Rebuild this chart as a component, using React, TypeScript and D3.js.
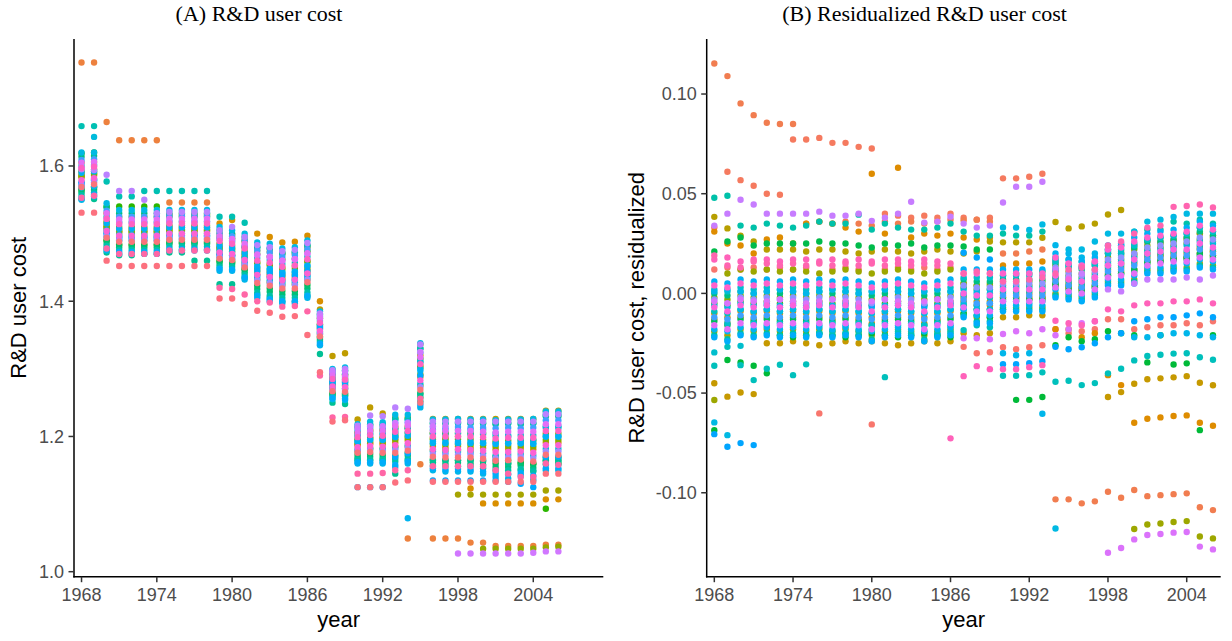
import React from "react";
import * as d3 from "d3";

// ---- categories and ticks ----
const YEARS = [
  1968, 1969, 1970, 1971, 1972, 1973, 1974, 1975, 1976, 1977,
  1978, 1979, 1980, 1981, 1982, 1983, 1984, 1985, 1986, 1987,
  1988, 1989, 1990, 1991, 1992, 1993, 1994, 1995, 1996, 1997,
  1998, 1999, 2000, 2001, 2002, 2003, 2004, 2005, 2006,
];
const YEAR_TICKS = [1968, 1974, 1980, 1986, 1992, 1998, 2004];
const COST_TICKS = [1.0, 1.2, 1.4, 1.6];
const RESID_TICKS = [-0.1, -0.05, 0, 0.05, 0.1];

// ---- panel A: states without their own credit history, one row per year ----
const COST_CLUSTER_HUES = [215, 160, 250, 300, 195, 335, 110, 230, 100, 60, 325, 205, 270, 10, 140, 155, 180, 235, 220];
const COST_CLUSTER: number[][] = [
  [1.620, 1.614, 1.609, 1.605, 1.600, 1.597, 1.593, 1.590, 1.586, 1.583, 1.579, 1.576, 1.572, 1.569, 1.565, 1.561, 1.557, 1.553, 1.550], // 1968
  [1.620, 1.615, 1.610, 1.606, 1.602, 1.599, 1.595, 1.592, 1.589, 1.586, 1.582, 1.579, 1.576, 1.573, 1.569, 1.565, 1.561, 1.558, 1.555],
  [1.545, 1.539, 1.534, 1.530, 1.525, 1.522, 1.518, 1.515, 1.511, 1.508, 1.504, 1.501, 1.497, 1.494, 1.490, 1.486, 1.482, 1.478, 1.475], // 1970
  [1.535, 1.530, 1.525, 1.521, 1.517, 1.514, 1.510, 1.507, 1.504, 1.501, 1.497, 1.494, 1.491, 1.488, 1.484, 1.480, 1.476, 1.473, 1.470],
  [1.535, 1.530, 1.525, 1.521, 1.517, 1.514, 1.510, 1.507, 1.504, 1.501, 1.497, 1.494, 1.491, 1.488, 1.484, 1.480, 1.476, 1.473, 1.470],
  [1.535, 1.530, 1.525, 1.521, 1.517, 1.514, 1.510, 1.507, 1.504, 1.501, 1.497, 1.494, 1.491, 1.488, 1.484, 1.480, 1.476, 1.473, 1.470],
  [1.535, 1.530, 1.525, 1.521, 1.517, 1.514, 1.510, 1.507, 1.504, 1.501, 1.497, 1.494, 1.491, 1.488, 1.484, 1.480, 1.476, 1.473, 1.470],
  [1.535, 1.530, 1.526, 1.522, 1.518, 1.515, 1.512, 1.509, 1.506, 1.503, 1.500, 1.497, 1.494, 1.491, 1.488, 1.485, 1.481, 1.477, 1.475], // 1975
  [1.535, 1.530, 1.526, 1.522, 1.518, 1.515, 1.512, 1.509, 1.506, 1.503, 1.500, 1.497, 1.494, 1.491, 1.488, 1.485, 1.481, 1.477, 1.475],
  [1.535, 1.530, 1.526, 1.522, 1.518, 1.515, 1.512, 1.509, 1.506, 1.503, 1.500, 1.497, 1.494, 1.491, 1.488, 1.485, 1.481, 1.477, 1.475],
  [1.535, 1.530, 1.526, 1.522, 1.518, 1.515, 1.512, 1.509, 1.506, 1.503, 1.500, 1.497, 1.494, 1.491, 1.488, 1.485, 1.481, 1.477, 1.475],
  [1.510, 1.505, 1.500, 1.496, 1.492, 1.489, 1.485, 1.482, 1.479, 1.476, 1.472, 1.469, 1.466, 1.463, 1.459, 1.455, 1.451, 1.448, 1.445],
  [1.505, 1.500, 1.496, 1.492, 1.488, 1.485, 1.482, 1.479, 1.476, 1.473, 1.470, 1.467, 1.464, 1.461, 1.458, 1.455, 1.451, 1.447, 1.445], // 1980
  [1.500, 1.495, 1.490, 1.485, 1.481, 1.478, 1.474, 1.471, 1.467, 1.464, 1.461, 1.457, 1.454, 1.450, 1.447, 1.443, 1.439, 1.435, 1.432],
  [1.487, 1.480, 1.475, 1.469, 1.464, 1.460, 1.456, 1.452, 1.448, 1.444, 1.439, 1.435, 1.431, 1.427, 1.423, 1.418, 1.413, 1.408, 1.405],
  [1.485, 1.478, 1.472, 1.466, 1.461, 1.457, 1.453, 1.448, 1.444, 1.440, 1.436, 1.431, 1.427, 1.423, 1.419, 1.414, 1.408, 1.403, 1.400],
  [1.478, 1.472, 1.466, 1.460, 1.455, 1.451, 1.447, 1.443, 1.439, 1.435, 1.431, 1.427, 1.423, 1.419, 1.415, 1.410, 1.405, 1.400, 1.397],
  [1.480, 1.473, 1.468, 1.462, 1.457, 1.453, 1.448, 1.444, 1.440, 1.436, 1.432, 1.428, 1.424, 1.419, 1.415, 1.410, 1.405, 1.400, 1.397], // 1985
  [1.490, 1.483, 1.477, 1.471, 1.466, 1.462, 1.458, 1.453, 1.449, 1.445, 1.441, 1.436, 1.432, 1.428, 1.424, 1.419, 1.413, 1.408, 1.405],
  [1.385, 1.381, 1.377, 1.374, 1.371, 1.368, 1.366, 1.363, 1.361, 1.358, 1.356, 1.353, 1.351, 1.348, 1.346, 1.343, 1.340, 1.337, 1.335],
  [1.300, 1.296, 1.293, 1.290, 1.287, 1.285, 1.283, 1.281, 1.278, 1.276, 1.274, 1.272, 1.269, 1.267, 1.265, 1.262, 1.259, 1.257, 1.255],
  [1.302, 1.297, 1.292, 1.289, 1.287, 1.284, 1.282, 1.280, 1.278, 1.275, 1.273, 1.271, 1.269, 1.266, 1.264, 1.261, 1.259, 1.256, 1.254],
  [1.218, 1.213, 1.209, 1.205, 1.202, 1.199, 1.196, 1.193, 1.190, 1.187, 1.184, 1.181, 1.179, 1.176, 1.173, 1.169, 1.166, 1.162, 1.160], // 1990
  [1.222, 1.217, 1.213, 1.208, 1.205, 1.202, 1.198, 1.195, 1.192, 1.189, 1.186, 1.183, 1.180, 1.177, 1.174, 1.170, 1.166, 1.162, 1.160],
  [1.221, 1.216, 1.212, 1.208, 1.204, 1.201, 1.198, 1.195, 1.192, 1.188, 1.185, 1.182, 1.179, 1.176, 1.173, 1.169, 1.166, 1.162, 1.160],
  [1.232, 1.226, 1.220, 1.215, 1.210, 1.207, 1.203, 1.199, 1.195, 1.191, 1.187, 1.183, 1.180, 1.176, 1.172, 1.167, 1.163, 1.158, 1.155],
  [1.232, 1.226, 1.221, 1.216, 1.212, 1.208, 1.205, 1.201, 1.197, 1.194, 1.190, 1.187, 1.183, 1.179, 1.176, 1.172, 1.167, 1.163, 1.160],
  [1.338, 1.330, 1.324, 1.317, 1.311, 1.307, 1.302, 1.297, 1.292, 1.288, 1.283, 1.278, 1.273, 1.269, 1.264, 1.258, 1.252, 1.247, 1.243], // 1995
  [1.225, 1.219, 1.214, 1.208, 1.204, 1.200, 1.196, 1.193, 1.189, 1.185, 1.181, 1.178, 1.174, 1.170, 1.166, 1.162, 1.157, 1.153, 1.150],
  [1.225, 1.219, 1.213, 1.208, 1.203, 1.200, 1.196, 1.192, 1.188, 1.184, 1.180, 1.176, 1.173, 1.169, 1.165, 1.160, 1.156, 1.151, 1.148],
  [1.226, 1.220, 1.214, 1.208, 1.204, 1.200, 1.196, 1.192, 1.188, 1.185, 1.181, 1.177, 1.173, 1.169, 1.165, 1.161, 1.156, 1.152, 1.148],
  [1.225, 1.219, 1.213, 1.208, 1.203, 1.200, 1.196, 1.192, 1.188, 1.184, 1.180, 1.176, 1.173, 1.169, 1.165, 1.160, 1.156, 1.151, 1.148],
  [1.225, 1.219, 1.213, 1.207, 1.203, 1.199, 1.195, 1.191, 1.187, 1.183, 1.179, 1.175, 1.171, 1.167, 1.163, 1.158, 1.153, 1.148, 1.145], // 2000
  [1.224, 1.218, 1.212, 1.206, 1.201, 1.197, 1.193, 1.189, 1.185, 1.181, 1.177, 1.172, 1.168, 1.164, 1.160, 1.155, 1.150, 1.145, 1.140],
  [1.225, 1.219, 1.213, 1.207, 1.202, 1.198, 1.194, 1.190, 1.186, 1.182, 1.177, 1.173, 1.169, 1.165, 1.160, 1.155, 1.150, 1.144, 1.138],
  [1.225, 1.218, 1.212, 1.207, 1.202, 1.198, 1.194, 1.190, 1.186, 1.182, 1.178, 1.174, 1.170, 1.166, 1.162, 1.157, 1.152, 1.146, 1.142],
  [1.226, 1.219, 1.213, 1.207, 1.202, 1.198, 1.194, 1.189, 1.185, 1.181, 1.176, 1.172, 1.168, 1.163, 1.159, 1.154, 1.148, 1.142, 1.136],
  [1.237, 1.230, 1.224, 1.218, 1.213, 1.208, 1.204, 1.200, 1.195, 1.191, 1.187, 1.182, 1.178, 1.173, 1.169, 1.164, 1.159, 1.153, 1.150], // 2005
  [1.237, 1.230, 1.224, 1.218, 1.213, 1.208, 1.204, 1.200, 1.195, 1.191, 1.187, 1.182, 1.178, 1.173, 1.169, 1.164, 1.159, 1.153, 1.150],
];

// ---- panel A: states with their own paths (1968 ... 2006) ----
const costCoral = [
  1.753, 1.753, 1.665, 1.638, 1.638, 1.638, 1.638, 1.546, 1.546, 1.546,
  1.546, 1.470, 1.468, 1.455, 1.440, 1.437, 1.432, 1.433, 1.441, 1.352,
  1.271, 1.271, 1.188, 1.190, 1.190, 1.196, 1.049, 1.159, 1.049, 1.049,
  1.049, 1.043, 1.043, 1.038, 1.038, 1.038, 1.038, 1.040, 1.040,
];
const costOrange = [
  1.590, 1.592, 1.515, 1.507, 1.507, 1.507, 1.507, 1.509, 1.509, 1.509,
  1.509, 1.515, 1.520, 1.490, 1.500, 1.495, 1.487, 1.488, 1.497, 1.400,
  1.290, 1.290, 1.205, 1.210, 1.210, 1.215, 1.215, 1.320, 1.205, 1.205,
  1.200, 1.123, 1.101, 1.101, 1.101, 1.101, 1.101, 1.107, 1.107,
];
const costSalmon = [
  1.531, 1.531, 1.460, 1.452, 1.452, 1.452, 1.452, 1.452, 1.452, 1.452,
  1.452, 1.404, 1.404, 1.396, 1.386, 1.383, 1.377, 1.378, 1.350, 1.295,
  1.222, 1.224, 1.125, 1.125, 1.125, 1.132, 1.135, 1.250, 1.133, 1.133,
  1.133, 1.133, 1.133, 1.133, 1.133, 1.133, 1.133, 1.145, 1.145,
];
const costRose = [
  1.553, 1.556, 1.478, 1.470, 1.470, 1.470, 1.470, 1.475, 1.475, 1.475,
  1.475, 1.420, 1.418, 1.410, 1.400, 1.398, 1.392, 1.393, 1.385, 1.290,
  1.228, 1.229, 1.145, 1.145, 1.146, 1.150, 1.150, 1.256, 1.156, 1.156,
  1.156, 1.156, 1.156, 1.150, 1.145, 1.140, 1.140, 1.160, 1.158,
];
const costBlue = [
  1.575, 1.580, 1.500, 1.495, 1.495, 1.495, 1.495, 1.497, 1.497, 1.497,
  1.497, 1.470, 1.468, 1.460, 1.445, 1.442, 1.438, 1.438, 1.445, 1.360,
  1.280, 1.281, 1.125, 1.125, 1.125, 1.170, 1.175, 1.290, 1.135, 1.135,
  1.135, 1.135, 1.135, 1.135, 1.133, 1.130, 1.125, 1.170, 1.170,
];
const costOlive = [
  1.605, 1.606, 1.530, 1.525, 1.525, 1.525, 1.525, 1.528, 1.528, 1.528,
  1.528, 1.500, 1.498, 1.488, 1.475, 1.473, 1.470, 1.470, 1.480, 1.388,
  1.319, 1.323, 1.225, 1.243, 1.234, 1.228, 1.228, 1.336, 1.226, 1.226,
  1.226, 1.226, 1.226, 1.226, 1.226, 1.226, 1.226, 1.238, 1.238,
];
const costKhaki = [
  1.585, 1.588, 1.510, 1.503, 1.503, 1.503, 1.503, 1.505, 1.505, 1.505,
  1.505, 1.480, 1.478, 1.470, 1.458, 1.455, 1.450, 1.452, 1.460, 1.365,
  1.285, 1.285, 1.195, 1.198, 1.198, 1.200, 1.200, 1.305, 1.198, 1.198,
  1.114, 1.114, 1.114, 1.114, 1.114, 1.114, 1.114, 1.120, 1.120,
];
const costLime = [
  1.565, 1.568, 1.490, 1.483, 1.483, 1.483, 1.483, 1.486, 1.486, 1.486,
  1.486, 1.460, 1.458, 1.448, 1.432, 1.428, 1.424, 1.425, 1.432, 1.348,
  1.262, 1.262, 1.178, 1.182, 1.182, 1.185, 1.185, 1.275, 1.180, 1.180,
  1.180, 1.180, 1.034, 1.034, 1.034, 1.034, 1.034, 1.036, 1.037,
];
const costViolet = [
  1.598, 1.600, 1.522, 1.516, 1.516, 1.516, 1.516, 1.518, 1.518, 1.518,
  1.518, 1.492, 1.490, 1.482, 1.468, 1.465, 1.460, 1.462, 1.470, 1.378,
  1.295, 1.296, 1.212, 1.215, 1.215, 1.220, 1.220, 1.325, 1.215, 1.215,
  1.027, 1.027, 1.027, 1.027, 1.027, 1.027, 1.028, 1.030, 1.030,
];
const costLilac = [
  1.595, 1.594, 1.587, 1.563, 1.563, 1.550, 1.530, 1.532, 1.532, 1.532,
  1.532, 1.505, 1.510, 1.495, 1.483, 1.480, 1.474, 1.476, 1.486, 1.382,
  1.298, 1.300, 1.216, 1.231, 1.230, 1.243, 1.241, 1.336, 1.222, 1.222,
  1.222, 1.222, 1.222, 1.222, 1.222, 1.222, 1.222, 1.233, 1.233,
];
const costCyan = [
  1.568, 1.570, 1.495, 1.490, 1.490, 1.490, 1.490, 1.492, 1.492, 1.492,
  1.492, 1.465, 1.462, 1.452, 1.438, 1.435, 1.430, 1.431, 1.438, 1.355,
  1.276, 1.276, 1.192, 1.195, 1.195, 1.200, 1.079, 1.300, 1.190, 1.190,
  1.190, 1.190, 1.190, 1.190, 1.190, 1.190, 1.190, 1.200, 1.200,
];
const costTeal = [
  1.659, 1.659, 1.577, 1.555, 1.555, 1.563, 1.563, 1.563, 1.563, 1.563,
  1.563, 1.525, 1.525, 1.516, 1.480, 1.478, 1.470, 1.472, 1.482, 1.380,
  1.298, 1.298, 1.215, 1.218, 1.218, 1.225, 1.225, 1.330, 1.220, 1.220,
  1.220, 1.220, 1.220, 1.220, 1.220, 1.220, 1.220, 1.232, 1.232,
];
const costSky = [
  1.572, 1.643, 1.505, 1.498, 1.498, 1.498, 1.498, 1.500, 1.500, 1.500,
  1.500, 1.475, 1.473, 1.465, 1.450, 1.447, 1.442, 1.443, 1.452, 1.365,
  1.283, 1.284, 1.200, 1.203, 1.203, 1.206, 1.206, 1.310, 1.210, 1.210,
  1.210, 1.210, 1.210, 1.205, 1.200, 1.195, 1.195, 1.215, 1.215,
];
const costGreen = [
  1.619, 1.620, 1.540, 1.540, 1.540, 1.540, 1.540, 1.525, 1.525, 1.525,
  1.525, 1.495, 1.493, 1.480, 1.470, 1.466, 1.462, 1.463, 1.474, 1.375,
  1.292, 1.292, 1.206, 1.208, 1.208, 1.212, 1.212, 1.315, 1.205, 1.205,
  1.205, 1.205, 1.205, 1.170, 1.165, 1.160, 1.160, 1.093, 1.160,
];
const costSea = [
  1.551, 1.551, 1.472, 1.468, 1.468, 1.470, 1.470, 1.472, 1.472, 1.460,
  1.460, 1.425, 1.425, 1.435, 1.410, 1.405, 1.400, 1.400, 1.408, 1.322,
  1.250, 1.248, 1.165, 1.165, 1.165, 1.145, 1.165, 1.262, 1.165, 1.165,
  1.165, 1.165, 1.165, 1.165, 1.160, 1.150, 1.150, 1.165, 1.165,
];

// ---- panel B: residualized cost, core states one row per year ----
const RESID_CLUSTER_HUES = [230, 330, 200, 160, 100, 265, 120, 210, 320, 190, 55, 250, 40, 145, 300, 225, 80, 175, 235];
const RESID_CLUSTER: number[][] = [
  [0.006, 0.004, 0.002, 0.000, -0.002, -0.003, -0.005, -0.006, -0.007, -0.009, -0.010, -0.012, -0.013, -0.014, -0.016, -0.018, -0.019, -0.021, -0.022], // 1968
  [0.005, 0.003, 0.001, -0.001, -0.003, -0.005, -0.006, -0.007, -0.009, -0.010, -0.012, -0.013, -0.015, -0.016, -0.018, -0.019, -0.021, -0.023, -0.024],
  [0.007, 0.005, 0.003, 0.001, -0.001, -0.002, -0.004, -0.005, -0.006, -0.008, -0.009, -0.011, -0.012, -0.013, -0.015, -0.017, -0.018, -0.020, -0.021], // 1970
  [0.006, 0.004, 0.002, 0.000, -0.002, -0.003, -0.005, -0.006, -0.007, -0.009, -0.010, -0.012, -0.013, -0.014, -0.016, -0.018, -0.019, -0.021, -0.022],
  [0.007, 0.005, 0.003, 0.001, -0.001, -0.002, -0.004, -0.005, -0.006, -0.008, -0.009, -0.011, -0.012, -0.013, -0.015, -0.017, -0.018, -0.020, -0.021],
  [0.006, 0.004, 0.002, 0.000, -0.002, -0.003, -0.005, -0.006, -0.007, -0.009, -0.010, -0.012, -0.013, -0.014, -0.016, -0.018, -0.019, -0.021, -0.022],
  [0.007, 0.005, 0.003, 0.001, -0.001, -0.002, -0.004, -0.005, -0.006, -0.008, -0.009, -0.011, -0.012, -0.013, -0.015, -0.017, -0.018, -0.020, -0.021],
  [0.006, 0.004, 0.002, 0.000, -0.002, -0.003, -0.005, -0.006, -0.007, -0.009, -0.010, -0.012, -0.013, -0.014, -0.016, -0.018, -0.019, -0.021, -0.022], // 1975
  [0.007, 0.005, 0.003, 0.001, -0.001, -0.002, -0.004, -0.005, -0.006, -0.008, -0.009, -0.011, -0.012, -0.013, -0.015, -0.017, -0.018, -0.020, -0.021],
  [0.006, 0.004, 0.002, 0.000, -0.002, -0.003, -0.005, -0.006, -0.007, -0.009, -0.010, -0.012, -0.013, -0.014, -0.016, -0.018, -0.019, -0.021, -0.022],
  [0.007, 0.005, 0.003, 0.001, -0.001, -0.002, -0.004, -0.005, -0.006, -0.008, -0.009, -0.011, -0.012, -0.013, -0.015, -0.017, -0.018, -0.020, -0.021],
  [0.006, 0.004, 0.002, 0.000, -0.002, -0.003, -0.005, -0.006, -0.007, -0.009, -0.010, -0.012, -0.013, -0.014, -0.016, -0.018, -0.019, -0.021, -0.022],
  [0.005, 0.003, 0.001, -0.001, -0.003, -0.005, -0.006, -0.007, -0.009, -0.010, -0.012, -0.013, -0.015, -0.016, -0.018, -0.019, -0.021, -0.023, -0.024], // 1980
  [0.006, 0.004, 0.002, 0.000, -0.002, -0.003, -0.005, -0.006, -0.007, -0.009, -0.010, -0.012, -0.013, -0.014, -0.016, -0.018, -0.019, -0.021, -0.022],
  [0.007, 0.005, 0.003, 0.001, -0.001, -0.002, -0.004, -0.005, -0.006, -0.008, -0.009, -0.011, -0.012, -0.013, -0.015, -0.017, -0.018, -0.020, -0.021],
  [0.006, 0.004, 0.002, 0.000, -0.002, -0.003, -0.005, -0.006, -0.007, -0.009, -0.010, -0.012, -0.013, -0.014, -0.016, -0.018, -0.019, -0.021, -0.022],
  [0.005, 0.003, 0.001, -0.001, -0.003, -0.005, -0.006, -0.007, -0.009, -0.010, -0.012, -0.013, -0.015, -0.016, -0.018, -0.019, -0.021, -0.023, -0.024],
  [0.006, 0.004, 0.002, 0.000, -0.002, -0.003, -0.005, -0.006, -0.007, -0.009, -0.010, -0.012, -0.013, -0.014, -0.016, -0.018, -0.019, -0.021, -0.022], // 1985
  [0.007, 0.005, 0.003, 0.001, -0.001, -0.002, -0.004, -0.005, -0.006, -0.008, -0.009, -0.011, -0.012, -0.013, -0.015, -0.017, -0.018, -0.020, -0.021],
  [0.012, 0.010, 0.008, 0.007, 0.005, 0.004, 0.003, 0.002, 0.000, -0.001, -0.002, -0.003, -0.004, -0.006, -0.007, -0.008, -0.010, -0.011, -0.012],
  [0.012, 0.010, 0.008, 0.006, 0.004, 0.003, 0.002, 0.000, -0.001, -0.002, -0.004, -0.005, -0.006, -0.008, -0.009, -0.011, -0.012, -0.014, -0.015],
  [0.012, 0.010, 0.008, 0.006, 0.004, 0.003, 0.002, 0.000, -0.001, -0.002, -0.004, -0.005, -0.006, -0.008, -0.009, -0.011, -0.012, -0.014, -0.015],
  [0.012, 0.010, 0.009, 0.007, 0.006, 0.005, 0.004, 0.003, 0.002, 0.001, 0.000, -0.001, -0.002, -0.003, -0.004, -0.006, -0.007, -0.008, -0.009], // 1990
  [0.012, 0.010, 0.009, 0.007, 0.006, 0.005, 0.004, 0.003, 0.002, 0.001, 0.000, -0.001, -0.002, -0.003, -0.004, -0.006, -0.007, -0.008, -0.009],
  [0.012, 0.010, 0.009, 0.007, 0.006, 0.005, 0.004, 0.003, 0.002, 0.001, 0.000, -0.001, -0.002, -0.003, -0.004, -0.006, -0.007, -0.008, -0.009],
  [0.012, 0.010, 0.009, 0.007, 0.006, 0.005, 0.004, 0.003, 0.002, 0.001, 0.000, -0.001, -0.002, -0.003, -0.004, -0.006, -0.007, -0.008, -0.009],
  [0.020, 0.018, 0.017, 0.015, 0.014, 0.013, 0.012, 0.011, 0.009, 0.008, 0.007, 0.006, 0.005, 0.004, 0.003, 0.002, 0.000, -0.001, -0.002],
  [0.017, 0.015, 0.014, 0.013, 0.011, 0.010, 0.009, 0.008, 0.007, 0.006, 0.005, 0.004, 0.003, 0.002, 0.001, 0.000, -0.001, -0.002, -0.003], // 1995
  [0.016, 0.014, 0.013, 0.012, 0.010, 0.009, 0.008, 0.007, 0.006, 0.005, 0.004, 0.003, 0.002, 0.001, 0.000, -0.001, -0.002, -0.003, -0.004],
  [0.018, 0.016, 0.015, 0.014, 0.012, 0.011, 0.010, 0.009, 0.008, 0.007, 0.006, 0.005, 0.004, 0.003, 0.002, 0.001, 0.000, -0.001, -0.002],
  [0.024, 0.022, 0.021, 0.020, 0.018, 0.017, 0.016, 0.015, 0.014, 0.013, 0.012, 0.011, 0.010, 0.009, 0.008, 0.007, 0.006, 0.005, 0.004],
  [0.025, 0.023, 0.022, 0.020, 0.019, 0.018, 0.017, 0.016, 0.015, 0.014, 0.013, 0.012, 0.011, 0.010, 0.009, 0.007, 0.006, 0.005, 0.004],
  [0.028, 0.026, 0.025, 0.023, 0.022, 0.020, 0.019, 0.018, 0.017, 0.016, 0.015, 0.014, 0.012, 0.011, 0.010, 0.009, 0.007, 0.006, 0.005], // 2000
  [0.030, 0.028, 0.027, 0.026, 0.024, 0.023, 0.022, 0.021, 0.020, 0.019, 0.018, 0.017, 0.016, 0.015, 0.014, 0.013, 0.012, 0.011, 0.010],
  [0.031, 0.029, 0.028, 0.026, 0.025, 0.024, 0.023, 0.022, 0.021, 0.020, 0.019, 0.018, 0.017, 0.016, 0.015, 0.013, 0.012, 0.011, 0.010],
  [0.032, 0.030, 0.029, 0.027, 0.026, 0.025, 0.024, 0.023, 0.022, 0.021, 0.020, 0.019, 0.018, 0.017, 0.016, 0.014, 0.013, 0.012, 0.011],
  [0.033, 0.031, 0.030, 0.028, 0.027, 0.026, 0.025, 0.024, 0.022, 0.021, 0.020, 0.019, 0.018, 0.017, 0.016, 0.015, 0.013, 0.012, 0.011],
  [0.036, 0.034, 0.033, 0.031, 0.030, 0.028, 0.027, 0.026, 0.025, 0.024, 0.023, 0.022, 0.020, 0.019, 0.018, 0.017, 0.015, 0.014, 0.013], // 2005
  [0.034, 0.032, 0.031, 0.029, 0.028, 0.027, 0.026, 0.025, 0.023, 0.022, 0.021, 0.020, 0.019, 0.018, 0.017, 0.016, 0.014, 0.013, 0.012],
];

// ---- panel B: states with their own paths (1968 ... 2006) ----
const residLilac = [
  0.034, 0.040, 0.047, 0.0446, 0.040, 0.040, 0.040, 0.040, 0.041, 0.039,
  0.039, 0.040, 0.0364, 0.038, 0.040, 0.046, 0.0355, 0.036, 0.0385, 0.035,
  0.033, 0.034, 0.0456, 0.0535, 0.0535, 0.056, 0.012, 0.008, 0.010, 0.008,
  0.002, 0.001, 0.005, 0.007, 0.007, 0.007, 0.008, 0.007, 0.009,
];
const residTeal = [
  0.048, 0.049, 0.034, 0.033, 0.035, 0.034, 0.033, 0.034, 0.036, 0.035,
  0.035, 0.0395, 0.032, 0.035, 0.033, 0.032, 0.032, 0.033, 0.035, 0.031,
  0.029, 0.029, 0.030, 0.029, 0.029, 0.031, 0.018, 0.017, 0.016, 0.015,
  0.022, 0.024, 0.031, 0.032, 0.032, 0.036, 0.035, 0.037, 0.035,
];
const residGreen = [
  0.021, 0.026, 0.028, 0.024, 0.025, 0.025, 0.025, 0.025, 0.026, 0.025,
  0.025, 0.024, 0.023, 0.025, 0.024, 0.025, 0.023, 0.024, 0.024, 0.0235,
  0.022, 0.022, 0.009, 0.010, 0.010, 0.011, 0.005, 0.004, 0.003, 0.004,
  0.009, 0.010, 0.012, 0.016, 0.016, 0.017, 0.018, 0.020, 0.019,
];
const residOlive = [
  0.0384, 0.0326, 0.029, 0.026, 0.022, 0.022, 0.022, 0.021, 0.022, 0.022,
  0.021, 0.020, 0.021, 0.022, 0.021, 0.020, 0.021, 0.022, 0.021, 0.020,
  0.021, 0.026, 0.0256, 0.0256, 0.0256, 0.0279, 0.0358, 0.0326, 0.0336, 0.035,
  0.0396, 0.0418, 0.020, 0.020, 0.019, 0.018, 0.018, 0.022, 0.021,
];
const residCoral = [
  0.1153, 0.109, 0.0953, 0.0894, 0.0856, 0.085, 0.085, 0.035, 0.036, 0.035,
  0.036, 0.035, 0.034, 0.036, 0.035, 0.036, 0.035, 0.036, 0.037, 0.0367,
  0.037, 0.036, 0.020, 0.020, 0.021, 0.022, -0.1033, -0.1033, -0.1053, -0.1043,
  -0.0995, -0.1025, -0.0986, -0.1017, -0.1012, -0.1007, -0.1003, -0.1073, -0.1087,
];
const residTangerine = [
  0.033, 0.061, 0.0568, 0.054, 0.050, 0.0495, 0.0772, 0.0772, 0.078, 0.0755,
  0.0755, 0.0735, 0.0727, 0.040, 0.039, 0.038, 0.039, 0.038, 0.040, 0.038,
  0.037, 0.038, 0.0577, 0.0577, 0.0585, 0.060, 0.016, 0.015, 0.014, 0.016,
  0.020, 0.021, 0.024, 0.026, 0.026, 0.027, 0.028, 0.030, 0.029,
];
const residAmber = [
  0.031, 0.025, 0.024, 0.020, 0.027, 0.028, 0.025, 0.035, 0.036, 0.035,
  0.033, 0.031, 0.060, 0.030, 0.063, 0.028, 0.030, 0.029, 0.030, 0.028,
  0.027, 0.028, 0.014, 0.015, 0.015, 0.016, -0.018, -0.018, -0.022, -0.020,
  -0.041, -0.046, -0.0649, -0.0629, -0.0622, -0.0615, -0.0612, -0.0649, -0.0664,
];
const residOchre = [
  -0.0451, -0.0518, -0.0497, -0.0505, -0.025, -0.025, -0.024, -0.025, -0.026, -0.025,
  -0.024, -0.025, -0.024, -0.025, -0.026, -0.025, -0.024, -0.025, -0.024, -0.020,
  -0.021, -0.020, -0.012, -0.012, -0.011, -0.011, 0.004, 0.003, 0.002, 0.003,
  -0.052, -0.0495, -0.0453, -0.0431, -0.0426, -0.0421, -0.0415, -0.0448, -0.0461,
];
const residLime = [
  -0.0535, 0.010, 0.012, 0.011, 0.012, 0.011, 0.012, 0.011, 0.010, 0.011,
  0.012, 0.011, 0.010, 0.011, 0.012, 0.011, 0.010, 0.011, 0.012, 0.005,
  0.004, 0.005, -0.002, -0.002, -0.003, -0.002, 0.008, 0.007, 0.006, 0.008,
  0.014, 0.015, -0.1182, -0.1159, -0.1154, -0.1147, -0.1142, -0.1219, -0.1229,
];
const residViolet = [
  -0.004, -0.005, -0.003, -0.004, -0.004, -0.003, -0.004, -0.005, -0.004, -0.003,
  -0.004, -0.005, -0.004, -0.003, -0.004, -0.005, -0.004, -0.003, -0.004, -0.0225,
  -0.0225, -0.023, -0.0204, -0.019, -0.020, -0.018, -0.021, -0.018, -0.015, -0.014,
  -0.1301, -0.1277, -0.1234, -0.1212, -0.1207, -0.120, -0.1197, -0.127, -0.1284,
];
const residCyan = [
  -0.0647, -0.0711, -0.008, -0.009, -0.008, -0.009, -0.008, -0.009, -0.008, -0.009,
  -0.008, -0.009, -0.010, -0.009, -0.008, -0.009, -0.010, -0.009, -0.008, -0.005,
  -0.006, -0.005, 0.0331, 0.033, 0.0318, 0.0346, -0.1179, 0.022, 0.022, 0.026,
  0.030, 0.030, 0.031, 0.036, 0.037, 0.0384, 0.040, 0.040, 0.040,
];
const residBlue = [
  -0.0706, -0.0769, -0.0751, -0.0761, -0.006, -0.007, -0.006, -0.007, -0.006, -0.007,
  -0.006, -0.007, -0.006, -0.007, -0.006, -0.007, -0.006, -0.007, -0.006, 0.0204,
  0.018, 0.017, -0.0355, -0.0355, -0.035, -0.034, -0.0268, -0.028, -0.027, -0.025,
  -0.022, -0.020, -0.014, -0.013, -0.012, -0.012, -0.011, -0.010, -0.012,
];
const residEmerald = [
  -0.0686, -0.0334, -0.0346, -0.0363, -0.0401, -0.021, -0.022, -0.021, -0.020, -0.021,
  -0.022, -0.021, -0.020, -0.021, -0.022, -0.021, -0.020, -0.021, -0.022, -0.010,
  -0.011, -0.012, -0.008, -0.0534, -0.0534, -0.052, -0.026, -0.022, -0.024, -0.023,
  -0.019, -0.020, -0.021, -0.0346, -0.021, -0.0357, -0.0351, -0.0686, -0.021,
];
const residLagoon = [
  -0.0363, -0.0268, -0.036, -0.0435, -0.0378, -0.0358, -0.041, -0.0356, -0.020, -0.019,
  -0.020, -0.019, -0.018, -0.042, -0.019, -0.020, -0.019, -0.020, -0.019, -0.0184,
  -0.016, -0.017, -0.0413, -0.0413, -0.041, -0.0396, -0.0443, -0.0438, -0.046, -0.045,
  -0.0401, -0.0378, -0.0336, -0.0314, -0.0308, -0.0302, -0.030, -0.032, -0.0333,
];
const residAqua = [
  -0.0296, -0.015, -0.0263, -0.015, -0.016, -0.015, -0.016, -0.015, -0.016, -0.015,
  -0.016, -0.015, -0.016, -0.015, -0.016, -0.015, -0.016, -0.015, -0.016, -0.008,
  -0.008, -0.008, -0.004, -0.004, -0.005, -0.004, 0.016, 0.014, 0.013, 0.014,
  0.020, 0.020, 0.024, 0.027, 0.028, 0.029, 0.030, 0.033, 0.031,
];
const residPink = [
  0.017, 0.018, 0.016, 0.017, 0.017, 0.016, 0.017, 0.017, 0.016, 0.017,
  0.016, 0.017, 0.016, 0.017, 0.017, 0.016, 0.017, 0.016, -0.0727, -0.0415,
  -0.0365, -0.038, -0.038, -0.038, -0.037, -0.036, -0.0137, -0.015, -0.016, -0.014,
  -0.008, -0.009, -0.006, -0.005, -0.005, -0.004, -0.004, -0.003, -0.005,
];
const residSalmon = [
  0.012, 0.013, 0.012, 0.013, 0.012, 0.013, 0.012, 0.013, -0.0602, 0.012,
  0.013, 0.012, -0.0657, 0.012, 0.013, 0.012, 0.013, 0.012, 0.013, -0.0268,
  -0.030, -0.0295, -0.027, -0.028, -0.027, -0.026, -0.018, -0.020, -0.019, -0.018,
  -0.013, -0.013, -0.018, -0.017, -0.016, -0.016, -0.015, -0.016, -0.014,
];
const residRose = [
  0.019, 0.014, 0.013, 0.016, 0.015, 0.014, 0.015, 0.014, 0.015, 0.014,
  0.015, 0.014, 0.015, 0.014, 0.015, 0.014, 0.015, 0.014, 0.015, 0.010,
  0.011, 0.010, 0.006, 0.006, 0.007, 0.008, 0.010, 0.012, 0.013, 0.012,
  0.024, 0.026, 0.030, 0.033, 0.034, 0.0434, 0.0438, 0.0446, 0.0431,
];
const residAzure = [
  0.001, 0.002, 0.001, 0.000, 0.001, 0.002, 0.001, 0.000, 0.001, 0.002,
  0.001, 0.000, 0.001, 0.002, 0.001, 0.000, 0.001, 0.002, 0.001, 0.000,
  0.001, 0.002, -0.030, -0.031, -0.030, -0.0604, 0.0242, 0.020, 0.018, 0.020,
  0.022, 0.024, -0.022, -0.022, -0.021, -0.020, -0.020, -0.021, -0.022,
];

type Series = { hue: number; values: number[] };

const COST_PATHS: Series[] = [
  { hue: 30, values: costCoral }, { hue: 50, values: costOrange }, { hue: 8, values: costSalmon },
  { hue: 350, values: costRose }, { hue: 240, values: costBlue }, { hue: 70, values: costOlive },
  { hue: 85, values: costKhaki }, { hue: 95, values: costLime }, { hue: 290, values: costViolet },
  { hue: 280, values: costLilac }, { hue: 225, values: costCyan }, { hue: 185, values: costTeal },
  { hue: 210, values: costSky }, { hue: 125, values: costGreen }, { hue: 170, values: costSea },
];
const RESID_PATHS: Series[] = [
  { hue: 285, values: residLilac }, { hue: 180, values: residTeal }, { hue: 140, values: residGreen },
  { hue: 75, values: residOlive }, { hue: 25, values: residCoral }, { hue: 20, values: residTangerine },
  { hue: 45, values: residAmber }, { hue: 65, values: residOchre }, { hue: 90, values: residLime },
  { hue: 295, values: residViolet }, { hue: 215, values: residCyan }, { hue: 245, values: residBlue },
  { hue: 135, values: residEmerald }, { hue: 190, values: residLagoon }, { hue: 200, values: residAqua },
  { hue: 340, values: residPink }, { hue: 15, values: residSalmon }, { hue: 345, values: residRose },
  { hue: 220, values: residAzure },
];

// Polar-LUV (HCL) colour with chroma 100 and luminance 65, as in ggplot's hue palette
function hueColor(h: number): string {
  const L = 65;
  const C = 100;
  const rad = (h * Math.PI) / 180;
  const U = C * Math.cos(rad);
  const V = C * Math.sin(rad);
  const Xn = 95.047, Yn = 100, Zn = 108.883;
  const Y = Yn * Math.pow((L + 16) / 116, 3);
  const den = Xn + 15 * Yn + 3 * Zn;
  const un = (4 * Xn) / den;
  const vn = (9 * Yn) / den;
  const up = U / (13 * L) + un;
  const vp = V / (13 * L) + vn;
  const X = (9 * Y * up) / (4 * vp);
  const Z = -X / 3 - 5 * Y + (3 * Y) / vp;
  const x = X / 100, y = Y / 100, z = Z / 100;
  const lin = [
    3.240479 * x - 1.53715 * y - 0.498535 * z,
    -0.969256 * x + 1.875992 * y + 0.041556 * z,
    0.055648 * x - 0.204043 * y + 1.057311 * z,
  ];
  const [r, g, b] = lin.map((c) => {
    const v = c <= 0.0031308 ? 12.92 * c : 1.055 * Math.pow(c, 1 / 2.4) - 0.055;
    return Math.max(0, Math.min(255, Math.round(v * 255)));
  });
  return d3.rgb(r, g, b).formatHex();
}

// Combine the per-year columns into state series and order them by palette position
function buildSeries(columns: number[][], hues: number[], paths: Series[]): Series[] {
  const core = hues.map((h, j) => ({ hue: h, values: columns.map((col) => col[j]) }));
  const key = (h: number) => (h - 15 + 360) % 360;
  return [...core, ...paths].sort((a, b) => key(a.hue) - key(b.hue));
}

const SANS = "'Liberation Sans', Arial, Helvetica, sans-serif";
const SERIF = "'Liberation Serif', 'Times New Roman', serif";

interface PanelSpec {
  title: string;
  titleX: number;
  yLabel: string;
  yLabelX: number;
  x0: number;
  x1: number;
  y0: number;
  y1: number;
  xDomain: [number, number];
  yDomain: [number, number];
  yTicks: number[];
  yFormat: (v: number) => string;
  series: Series[];
}

function Panel({ spec }: { spec: PanelSpec }) {
  const x = d3.scaleLinear().domain(spec.xDomain).range([spec.x0, spec.x1]);
  const y = d3.scaleLinear().domain(spec.yDomain).range([spec.y1, spec.y0]);
  const tickLen = 5.5;
  return (
    <g>
      <text x={spec.titleX} y={21} textAnchor="middle" fontFamily={SERIF} fontSize={22} fill="#000">
        {spec.title}
      </text>
      {spec.series.map((s, i) => (
        <g key={i} fill={hueColor(s.hue)}>
          {s.values.map((v, k) => (
            <circle key={k} cx={x(YEARS[k])} cy={y(v)} r={3.2} />
          ))}
        </g>
      ))}
      {/* axes */}
      <line x1={spec.x0} x2={spec.x0} y1={spec.y0} y2={spec.y1 + 0.75} stroke="#000" strokeWidth={1.5} />
      <line x1={spec.x0 - 0.75} x2={spec.x1} y1={spec.y1} y2={spec.y1} stroke="#000" strokeWidth={1.5} />
      {spec.yTicks.map((t) => (
        <g key={t}>
          <line x1={spec.x0 - tickLen} x2={spec.x0} y1={y(t)} y2={y(t)} stroke="#333" strokeWidth={1.5} />
          <text
            x={spec.x0 - tickLen - 4.5}
            y={y(t) + 6.4}
            textAnchor="end"
            fontFamily={SANS}
            fontSize={18}
            fill="#4D4D4D"
          >
            {spec.yFormat(t)}
          </text>
        </g>
      ))}
      {YEAR_TICKS.map((t) => (
        <g key={t}>
          <line x1={x(t)} x2={x(t)} y1={spec.y1} y2={spec.y1 + tickLen} stroke="#333" strokeWidth={1.5} />
          <text x={x(t)} y={601} textAnchor="middle" fontFamily={SANS} fontSize={18} fill="#4D4D4D">
            {String(t)}
          </text>
        </g>
      ))}
      <text
        x={(spec.x0 + spec.x1) / 2}
        y={627}
        textAnchor="middle"
        fontFamily={SANS}
        fontSize={22}
        fill="#000"
      >
        year
      </text>
      <text
        transform={`translate(${spec.yLabelX},${(spec.y0 + spec.y1) / 2}) rotate(-90)`}
        textAnchor="middle"
        fontFamily={SANS}
        fontSize={22}
        fill="#000"
      >
        {spec.yLabel}
      </text>
    </g>
  );
}

export default function App() {
  const hyphen = (s: string) => s.replace("\u2212", "-");
  const panelA: PanelSpec = {
    title: "(A) R&D user cost",
    titleX: 259,
    yLabel: "R&D user cost",
    yLabelX: 26,
    x0: 74,
    x1: 603.3,
    y0: 39,
    y1: 576.7,
    xDomain: [1967.4, 2009.58],
    yDomain: [0.9926, 1.7878],
    yTicks: COST_TICKS,
    yFormat: (v) => d3.format(".1f")(v),
    series: buildSeries(COST_CLUSTER, COST_CLUSTER_HUES, COST_PATHS),
  };
  const panelB: PanelSpec = {
    title: "(B) Residualized R&D user cost",
    titleX: 924.5,
    yLabel: "R&D user cost, residualized",
    yLabelX: 644,
    x0: 706.7,
    x1: 1220.7,
    y0: 39,
    y1: 576.7,
    xDomain: [1967.42, 2006.59],
    yDomain: [-0.1421, 0.1276],
    yTicks: RESID_TICKS,
    yFormat: (v) => hyphen(d3.format(".2f")(v)),
    series: buildSeries(RESID_CLUSTER, RESID_CLUSTER_HUES, RESID_PATHS),
  };
  return (
    <svg
      width={1232}
      height={641}
      viewBox="0 0 1232 641"
      style={{ position: "absolute", left: 0, top: 0, display: "block", background: "#fff" }}
    >
      <rect width={1232} height={641} fill="#fff" />
      <Panel spec={panelA} />
      <Panel spec={panelB} />
    </svg>
  );
}
